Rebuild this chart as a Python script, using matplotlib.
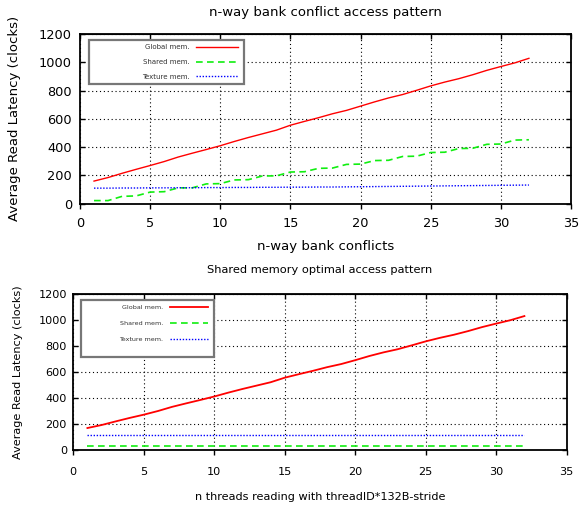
import matplotlib
matplotlib.use("Agg")
import matplotlib.pyplot as plt
from matplotlib.patches import Rectangle
import numpy as np

plt.rcParams['font.family'] = ['DejaVu Sans']

# ---- data ----
n = list(range(1, 33))

top_global = [160, 185, 215, 243, 270, 298, 330, 357, 383, 410, 440, 468, 494, 520, 555, 582,
              608, 636, 660, 690, 720, 748, 772, 802, 833, 860, 884, 912, 943, 970, 996, 1028]
top_shared = [22, 22, 52, 55, 82, 85, 112, 112, 140, 142, 168, 170, 196, 197, 224, 226,
              250, 252, 278, 280, 305, 307, 334, 336, 362, 364, 390, 392, 420, 422, 450, 452]
top_texture = [110, 110, 111, 111, 112, 112, 113, 113, 114, 114, 115, 115, 116, 116, 117, 117,
               118, 118, 119, 120, 121, 122, 123, 124, 125, 126, 127, 128, 129, 130, 131, 132]

bot_global = [167, 190, 218, 245, 270, 298, 330, 357, 383, 410, 440, 468, 494, 520, 555, 582,
              608, 636, 660, 690, 722, 750, 774, 804, 835, 862, 886, 914, 945, 972, 998, 1030]
bot_shared = [26] * 32
bot_texture = [116] * 32

series_labels = ["Global mem.", "Shared mem.", "Texture mem."]
titles = ["n-way bank conflict access pattern", "Shared memory optimal access pattern"]
xlabels = ["n-way bank conflicts", "n threads reading with threadID*132B-stride"]
ylabel = "Average Read Latency (clocks)"
xticks = [0, 5, 10, 15, 20, 25, 30, 35]
yticks = [0, 200, 400, 600, 800, 1000, 1200]

W, H = 581, 508
fig = plt.figure(figsize=(W / 100, H / 100), dpi=100)

def px_rect(l, t, r, b):
    return [l / W, 1 - b / H, (r - l) / W, (b - t) / H]

ax1 = fig.add_axes(px_rect(80, 34, 571, 203.7))
ax2 = fig.add_axes(px_rect(73.3, 294, 566.7, 449.7))

# per-panel styling
configs = [
    dict(ax=ax1, g=top_global, s=top_shared, t=top_texture,
         box=(0.0177, 0.705, 0.316, 0.26), lfs=5.0, lsp=1.25, leg_top=None,
         tick_fs=9.3, xpad=6.0, ypad=5.8, lab_fs=9.5, title_fs=9.5, title_pad=13,
         xlab_y=-0.255, ylab_x=-0.1334, glw=1.0),
    dict(ax=ax2, g=bot_global, s=bot_shared, t=bot_texture,
         box=(0.015, 0.595, 0.270, 0.366), lfs=4.6, lsp=1.65, leg_top=0.93,
         tick_fs=8.1, xpad=8.5, ypad=4.6, lab_fs=8.1, title_fs=8.2, title_pad=15,
         xlab_y=-0.304, ylab_x=-0.112, glw=1.3),
]

for i, c in enumerate(configs):
    ax = c['ax']
    box = c['box']
    l1, = ax.plot(n, c['g'], color="#ff0000", lw=c['glw'], label=series_labels[0])
    l2, = ax.plot(n, c['s'], color="#11ee11", lw=1.2, dashes=(4, 2.6), label=series_labels[1])
    l3, = ax.plot(n, c['t'], color="#0000ff", lw=1.0, dashes=(1, 1.2), label=series_labels[2])
    ax.set_xlim(0, 35)
    ax.set_ylim(0, 1200)
    ax.set_xticks(xticks)
    ax.set_yticks(yticks)
    ax.grid(True, color="black", lw=0.8, linestyle=(0, (1, 2.5)))
    ax.set_axisbelow(True)
    for sp in ax.spines.values():
        sp.set_linewidth(1.3)
    ax.tick_params(axis='x', direction='out', length=3.6, width=1,
                   labelsize=c['tick_fs'], pad=c['xpad'])
    ax.tick_params(axis='y', direction='in', length=3.6, width=1,
                   labelsize=c['tick_fs'], pad=c['ypad'], right=True)
    sec = ax.secondary_xaxis('top')
    sec.set_xticks(xticks)
    sec.tick_params(direction='in', length=3.6, width=1, labeltop=False)
    ax.set_xlabel(xlabels[i], fontsize=c['lab_fs'])
    ax.xaxis.label.set_va('center')
    ax.xaxis.set_label_coords(0.5, c['xlab_y'])
    ax.set_ylabel(ylabel, fontsize=c['lab_fs'])
    ax.yaxis.label.set_va('center')
    ax.yaxis.set_label_coords(c['ylab_x'], 0.5)
    ax.set_title(titles[i], fontsize=c['title_fs'], pad=c['title_pad'])
    rect = Rectangle((box[0], box[1]), box[2], box[3], transform=ax.transAxes,
                     facecolor="white", edgecolor="#777777", lw=1.6, zorder=4)
    ax.add_patch(rect)
    if c['leg_top'] is None:
        loc, anchor = "center right", (box[0] + box[2] - 0.012, box[1] + box[3] / 2)
    else:
        loc, anchor = "upper right", (box[0] + box[2] - 0.012, c['leg_top'])
    leg = ax.legend(handles=[l1, l2, l3], loc=loc, bbox_to_anchor=anchor,
                    frameon=False, markerfirst=False, fontsize=c['lfs'],
                    handlelength=6.0, handletextpad=1.0, labelspacing=c['lsp'],
                    borderpad=0.0, borderaxespad=0.0)
    leg.set_zorder(5)
    for txt in leg.get_texts():
        txt.set_color("#333333")

fig.savefig("out.png", dpi=100)
